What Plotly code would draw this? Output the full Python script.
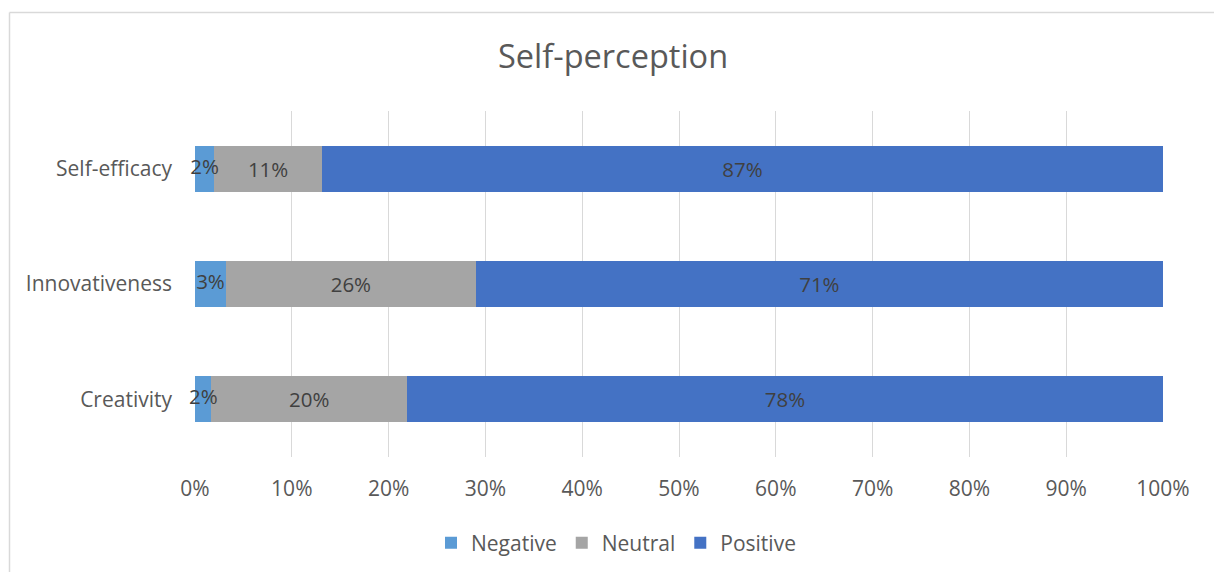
import plotly.graph_objects as go

categories = ["Creativity", "Innovativeness", "Self-efficacy"]
negative = [1.7, 3.2, 2.0]
neutral = [20.2, 25.8, 11.1]
positive = [78.1, 71.0, 86.9]
series_names = ["Negative", "Neutral", "Positive"]
series_colors = ["#5B9BD5", "#A5A5A5", "#4472C4"]
tick_vals = [0, 10, 20, 30, 40, 50, 60, 70, 80, 90, 100]
tick_text = [f"{v}%" for v in tick_vals]

FONT = "Open Sans"
LABEL_FONT = dict(family=FONT, size=20.5, color="#404040")
fig = go.Figure()
for name, vals, col in zip(series_names, [negative, neutral, positive], series_colors):
    small = name == "Negative"
    fig.add_trace(go.Bar(
        y=categories, x=vals, name=name, orientation="h",
        marker=dict(color=col, line=dict(width=0)),
        text=None if small else [f"{round(v)}%" for v in vals],
        textposition="none" if small else "inside", insidetextanchor="middle",
        constraintext="none", textangle=0,
        textfont=LABEL_FONT,
        cliponaxis=False,
    ))

# labels of the thin "Negative" segments drawn on top of all bars
fig.add_trace(go.Scatter(
    y=categories, x=[v / 2 for v in negative], mode="text",
    text=[f"{round(v)}%" for v in negative], textposition="middle center",
    textfont=LABEL_FONT, showlegend=False, hoverinfo="skip", cliponaxis=False,
))

fig.update_layout(
    barmode="stack", bargap=0.6,
    width=1214, height=572,
    margin=dict(l=195, r=51, t=111, b=115, autoexpand=False),
    paper_bgcolor="white", plot_bgcolor="white",
    title=dict(text="Self-perception", x=0.505, xref="container", xanchor="center",
               y=1 - 57/572, yref="container", yanchor="middle",
               font=dict(family=FONT, size=32.5, color="#595959")),
    legend=dict(orientation="h", x=(616-195)/968, xanchor="center",
                y=(457-543)/346, yanchor="middle",
                font=dict(family=FONT, size=21, color="#595959"),
                traceorder="normal", itemwidth=30),
    font=dict(family=FONT, color="#595959"),
    showlegend=True,
)
fig.update_xaxes(range=[0, 100], tickvals=tick_vals, ticktext=tick_text,
                 showgrid=True, gridcolor="#D9D9D9", gridwidth=1,
                 zeroline=False, showline=False, ticks="", automargin=False,
                 ticklabelstandoff=17,
                 tickfont=dict(family=FONT, size=21, color="#595959"))
fig.update_yaxes(showgrid=False, zeroline=False, showline=False, ticks="",
                 automargin=False, ticklabelstandoff=22,
                 tickfont=dict(family=FONT, size=21, color="#595959"))

# chart border (light gray)
px0, pw, py0, ph = 195, 968, 457, 346
def xp(px): return (px - px0) / pw
def yp(py): return (py0 - py) / ph
fig.add_shape(type="line", xref="paper", yref="paper",
              x0=xp(9.5), x1=xp(1220), y0=yp(12.5), y1=yp(12.5),
              line=dict(color="#D9D9D9", width=1.5))
fig.add_shape(type="line", xref="paper", yref="paper",
              x0=xp(9.5), x1=xp(9.5), y0=yp(12.5), y1=yp(580),
              line=dict(color="#D9D9D9", width=1.5))

fig.write_html("out.html")
